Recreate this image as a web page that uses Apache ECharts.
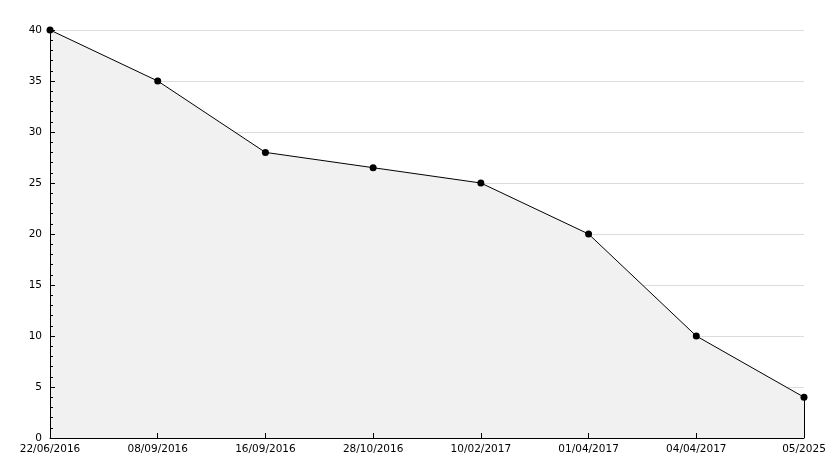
<!DOCTYPE html>
<html><head><meta charset="utf-8">
<script src="https://cdn.jsdelivr.net/npm/echarts@6/dist/echarts.min.js"></script>
<style>html,body{margin:0;padding:0;background:#fff}#c{width:834px;height:468px}</style>
</head><body><div id="c"></div>
<script>
const categories = ['22/06/2016','08/09/2016','16/09/2016','28/10/2016','10/02/2017','01/04/2017','04/04/2017','05/2025'];
const values = [40, 35, 28, 26.5, 25, 20, 10, 4];
const yTicks = {min: 0, max: 40, interval: 5};

const chart = echarts.init(document.getElementById('c'), null, {renderer: 'canvas'});
const lastCat = categories[categories.length - 1];
const lastVal = values[values.length - 1];
chart.setOption({
  animation: false,
  backgroundColor: '#fff',
  grid: {left: 50, right: 30, top: 30, bottom: 30},
  xAxis: {
    type: 'category', data: categories, boundaryGap: false, z: 10,
    axisLine: {lineStyle: {color: '#000', width: 1}},
    axisTick: {inside: true, length: 5, lineStyle: {color: '#000'}, alignWithLabel: true},
    axisLabel: {color: '#000', fontFamily: 'DejaVu Sans', fontSize: 10.5, margin: 6, showMinLabel: true, showMaxLabel: true, interval: 0},
    splitLine: {show: false}
  },
  yAxis: [{
    type: 'value', min: yTicks.min, max: yTicks.max, interval: yTicks.interval, z: 0,
    axisLine: {show: false}, axisTick: {show: false}, axisLabel: {show: false},
    splitLine: {show: true, lineStyle: {color: '#dcdcdc', width: 1}}
  }, {
    type: 'value', min: yTicks.min, max: yTicks.max, interval: yTicks.interval, z: 10,
    position: 'left', offset: 0,
    axisLine: {show: true, lineStyle: {color: '#000', width: 1}},
    axisTick: {show: true, inside: true, length: 5, lineStyle: {color: '#000'}},
    minorTick: {show: true, splitNumber: 5, length: 3, lineStyle: {color: '#000'}},
    axisLabel: {color: '#000', fontFamily: 'DejaVu Sans', fontSize: 10.5, margin: 8},
    splitLine: {show: false}
  }],
  series: [{
    type: 'line', data: values, z: 2, yAxisIndex: 0,
    lineStyle: {color: '#000', width: 1},
    itemStyle: {color: '#000'},
    symbol: 'circle', symbolSize: 7,
    areaStyle: {color: '#f1f1f1', opacity: 1},
    markLine: {
      silent: true, symbol: 'none', label: {show: false},
      lineStyle: {color: '#000', width: 1, type: 'solid'},
      data: [[{coord: [lastCat, 0]}, {coord: [lastCat, lastVal]}]]
    }
  }]
});
</script></body></html>
